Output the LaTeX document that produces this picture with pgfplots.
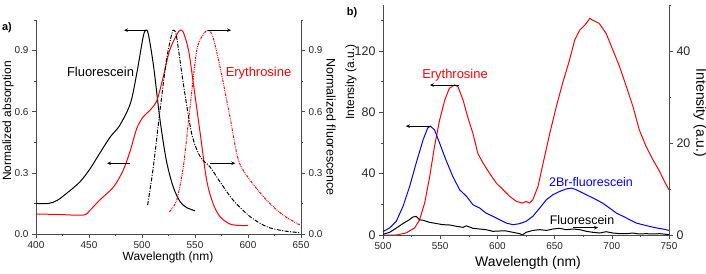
\documentclass[border=0pt]{standalone}
\usepackage{pgfplots}
\pgfplotsset{compat=1.18}
\usepackage{fontspec}
\setmainfont{Liberation Sans}
\usetikzlibrary{arrows.meta}
\definecolor{axgray}{RGB}{75,75,75}
\definecolor{myred}{RGB}{255,0,0}
\definecolor{myblue}{RGB}{0,0,255}
\tikzset{
  dashdot/.style={black, line width=1pt, dash pattern=on 4bp off 1.5bp on 1bp off 1.5bp},
  dashdotdot/.style={myred, line width=1pt, dash pattern=on 2.5bp off 1bp on 0.8bp off 1bp on 0.8bp off 1bp},
  arr/.style={-{Stealth[length=4bp,width=3.5bp]}, black, line width=0.8pt}
}
\pgfplotsset{
  base/.style={scale only axis, axis line style={axgray, line width=0.8pt},
    tick style={axgray, line width=0.6pt}, tick align=outside,
    major tick length=4bp, minor tick length=2.2bp,
    /pgf/number format/assume math mode=true,
    every tick label/.append style={text=black!85}}
}
\begin{document}
\begin{tikzpicture}
\path[use as bounding box] (0,0) rectangle (706bp,274bp);
% ---------------- panel a, left axis
\begin{axis}[base, at={(36bp,40bp)}, anchor=south west, width=265bp, height=214bp,
  xmin=400, xmax=650, ymin=0, ymax=1.05,
  axis x line*=bottom, axis y line*=left,
  xtick={400,450,...,650}, minor xtick={425,475,...,625},
  ytick={0,0.3,0.6,0.9}, minor ytick={0.15,0.45,0.75,1.05},
  yticklabel style={/pgf/number format/.cd, fixed, fixed zerofill, precision=1},
  ticklabel style={font=\fontsize{10}{12}\selectfont}]
\addplot[black, line width=1pt, smooth] coordinates {
(400,0.15)(412,0.15)(420,0.165)(429,0.20)(441.5,0.256)(451,0.32)(460,0.395)(470,0.476)
(479,0.533)(489,0.64)(495,0.786)(501,0.965)(503.5,1.0)(506,0.98)(511,0.82)(517,0.56)
(523,0.36)(529.5,0.23)(536,0.158)(542,0.13)(550,0.114)};
\addplot[myred, line width=1pt, smooth] coordinates {
(400,0.098)(420,0.096)(444.6,0.093)(451,0.117)(460,0.166)(473,0.23)(482,0.31)(489,0.41)
(495,0.517)(501,0.574)(507.5,0.607)(514,0.655)(520,0.77)(526,0.9)(533,0.98)(536,1.0)
(539,0.99)(544,0.9)(548.5,0.737)(555,0.49)(561,0.264)(567,0.15)(573.6,0.085)(583,0.049)
(592,0.042)(600,0.042)};
\draw[arr] (axis cs:504.7,1.0) -- (axis cs:483,1.0);
\draw[arr] (axis cs:489,0.347) -- (axis cs:467,0.347);
\end{axis}
% ---------------- panel a, right axis
\begin{axis}[base, at={(36bp,40bp)}, anchor=south west, width=265bp, height=214bp,
  xmin=400, xmax=650, ymin=0, ymax=1.05,
  axis x line=none, axis y line*=right,
  ytick={0,0.3,0.6,0.9}, minor ytick={0.15,0.45,0.75,1.05},
  yticklabel style={/pgf/number format/.cd, fixed, fixed zerofill, precision=1},
  ticklabel style={font=\fontsize{10}{12}\selectfont}]
\addplot[dashdot, smooth] coordinates {
(505.3,0.142)(510.7,0.33)(517,0.607)(523,0.85)(528,0.98)(530,1.0)(532.7,0.965)(539,0.737)
(547,0.49)(555,0.378)(564,0.33)(573.6,0.256)(586,0.166)(602,0.085)(617.6,0.036)
(633,0.016)(649,0.0065)};
\addplot[dashdotdot, smooth] coordinates {
(525.8,0.109)(532.7,0.166)(539,0.33)(545,0.607)(551.6,0.9)(558,0.98)(562.6,1.0)(567,0.965)
(573.6,0.82)(583,0.574)(591,0.362)(602,0.264)(617.6,0.166)(633,0.093)(649,0.044)};
\draw[arr] (axis cs:562,1.0) -- (axis cs:584,1.0);
\draw[arr] (axis cs:564,0.347) -- (axis cs:588,0.347);
\end{axis}
% ---------------- panel b, left axis
\begin{axis}[base, at={(383bp,39bp)}, anchor=south west, width=286bp, height=230bp,
  xmin=500, xmax=750, ymin=0, ymax=150,
  axis x line*=bottom, axis y line*=left,
  xtick={500,550,...,750}, minor xtick={525,575,...,725},
  ytick={0,40,80,120}, minor ytick={20,60,100,140},
  xticklabel style={font=\fontsize{10}{12}\selectfont},
  yticklabel style={font=\fontsize{12.5}{14}\selectfont}]
\addplot[myred, line width=1pt] coordinates {
(500,0)(511.7,0)(520,1.3)(527.7,4.6)(532,10)(536.4,20.8)(540.8,38)(545,57.7)(549.5,75)
(554,88)(558,95.7)(562.6,97.9)(565.5,96.8)(570,88)(574,77)(578.7,66)(583,53)(587.4,47)
(593,40.4)(599,33.9)(605,29.5)(610.7,25.2)(616.6,21.9)(622,20.8)(625,21.9)(628,20.8)
(631,23)(635.5,31.7)(640,47)(645.7,66)(651.5,83.8)(657,99)(663,114)(667.5,127)
(672,133.7)(677.7,138)(680.7,141.3)(683.6,140)(689,138)(695,131.5)(700.9,120.7)
(706.8,109.8)(712.7,96.8)(718.5,83.8)(724,68.6)(730,57.7)(736,49)(741.8,41.4)
(746,34.9)(750,29.5)};
\addplot[myblue, line width=1pt] coordinates {
(500,2.2)(505.8,4.6)(511.6,8.9)(517.5,18.7)(523.3,31.7)(529,46.9)(535,62)(539,69.7)
(541.4,71)(545,68.6)(549.5,59.9)(555,49)(561,38.2)(567,29.5)(573,25.2)(578.7,19.7)
(584.5,17.6)(590,14.3)(596,12.2)(602,10)(607.8,7.8)(613.6,6.7)(619.5,7.4)(625,8.9)
(631,12.2)(637,17.6)(642.8,23)(648.6,26.3)(654.4,28.4)(660,30)(664.7,30.6)(669,29.5)
(674.8,27.3)(680.6,25.2)(686.5,23)(692,20.8)(698,17.6)(704,14.3)(709.8,12.2)
(715.6,10)(721.4,7.8)(727,6.7)(733,5.6)(739,4.6)(744.7,3.9)(750,3)};
\draw[arr] (axis cs:566,97.8) -- (axis cs:541,97.8);
\draw[arr] (axis cs:542,71) -- (axis cs:520,71);
\end{axis}
% ---------------- panel b, right axis
\begin{axis}[base, at={(383bp,39bp)}, anchor=south west, width=286bp, height=230bp,
  xmin=500, xmax=750, ymin=0, ymax=50,
  axis x line=none, axis y line*=right,
  ytick={0,20,40}, minor ytick={10,30,50},
  yticklabel style={font=\fontsize{12.5}{14}\selectfont}]
\addplot[black, line width=1pt] coordinates {
(500,0.15)(505.8,0.58)(511.6,1.5)(517.5,2.5)(523,3.3)(526,3.9)(529,4.05)(532,3.3)
(535,3.2)(540.8,2.75)(546.6,2.5)(552.4,2.24)(558,2.2)(564,1.9)(570,1.66)(572.8,2.0)
(578.7,1.45)(584.5,1.3)(590,1.16)(596,0.8)(602,0.87)(607.8,0.87)(613.6,0.58)
(619.5,0.29)(622,0)(625,0.58)(631,1.0)(637,1.16)(643,1.0)(648.6,1.3)(654.4,1.45)
(660,1.16)(666,1.3)(672,1.16)(677.7,0.8)(683.6,0.58)(689.5,0.43)(695,0.72)(701,0.43)
(707,0.29)(713,0.29)(718.5,0.43)(724,0.22)(730,0.29)(736,0.22)(742,0.29)(750,0.07)};
\draw[arr] (axis cs:666,1.6) -- (axis cs:688,1.6);
\end{axis}
% ---------------- labels
\node[font=\bfseries\fontsize{11}{13}\selectfont] at (7bp,246bp) {a)};
\node[font=\bfseries\fontsize{11}{13}\selectfont] at (352bp,261bp) {b)};
\node[rotate=90, font=\fontsize{12}{14}\selectfont] at (8bp,153bp) {Normalized absorption};
\node[rotate=-90, font=\fontsize{12.5}{14}\selectfont] at (331bp,147bp) {Normalized fluorescence};
\node[font=\fontsize{12}{14}\selectfont] at (168bp,17bp) {Wavelength (nm)};
\node[font=\fontsize{13}{15}\selectfont] at (100.5bp,202bp) {Fluorescein};
\node[font=\fontsize{13}{15}\selectfont, text=myred] at (258.5bp,201bp) {Erythrosine};
\node[rotate=90, font=\fontsize{12}{14}\selectfont] at (351bp,192bp) {Intensity (a.u.)};
\node[rotate=-90, font=\fontsize{14}{16}\selectfont] at (700bp,161bp) {Intensity (a.u.)};
\node[font=\fontsize{14}{16}\selectfont] at (528bp,11bp) {Wavelength (nm)};
\node[font=\fontsize{13}{15}\selectfont, text=myred] at (455bp,199bp) {Erythrosine};
\node[font=\fontsize{12.5}{15}\selectfont, text=myblue] at (591bp,92bp) {2Br-fluorescein};
\node[font=\fontsize{12.5}{15}\selectfont] at (582bp,54bp) {Fluorescein};
\end{tikzpicture}
\end{document}
